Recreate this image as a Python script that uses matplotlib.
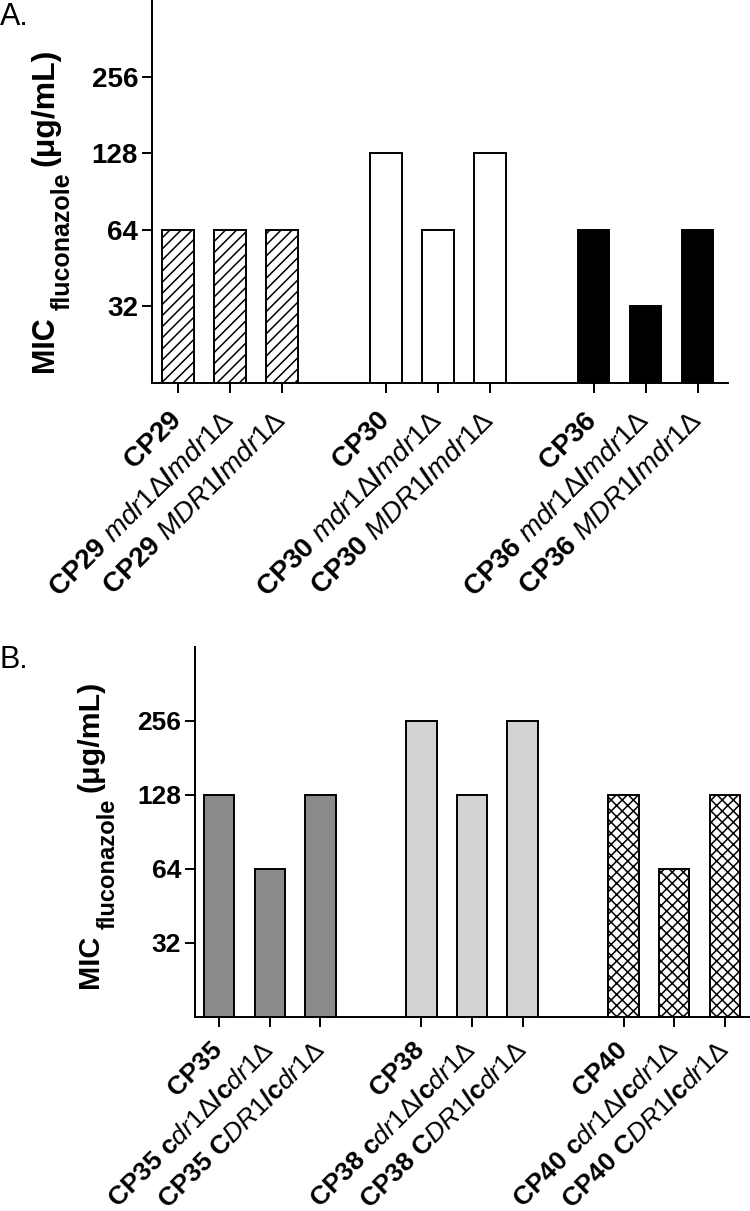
"""MIC de fluconazol (escala log2) para isolados clínicos e mutantes mdr1/cdr1."""

import numpy as np
import matplotlib
matplotlib.use("Agg")
import matplotlib.pyplot as plt

plt.rcParams["font.family"] = ["Liberation Sans", "DejaVu Sans"]
plt.rcParams["mathtext.fontset"] = "custom"
plt.rcParams["mathtext.rm"] = "Liberation Sans"
plt.rcParams["mathtext.it"] = "Liberation Sans:italic"
plt.rcParams["mathtext.bf"] = "Liberation Sans:bold"
plt.rcParams["hatch.linewidth"] = 1.1

# --- dados (painel A: mdr1) ---
A_VALUES = [64, 64, 64, 128, 64, 128, 64, 32, 64]
A_LABELS = [
    r"$\mathbf{CP29}$",
    r"$\mathbf{CP29}\ \mathit{mdr1Δ}\mathbf{/}\mathit{mdr1Δ}$",
    r"$\mathbf{CP29}\ \mathit{MDR1}\mathbf{/}\mathit{mdr1Δ}$",
    r"$\mathbf{CP30}$",
    r"$\mathbf{CP30}\ \mathit{mdr1Δ}\mathbf{/}\mathit{mdr1Δ}$",
    r"$\mathbf{CP30}\ \mathit{MDR1}\mathbf{/}\mathit{mdr1Δ}$",
    r"$\mathbf{CP36}$",
    r"$\mathbf{CP36}\ \mathit{mdr1Δ}\mathbf{/}\mathit{mdr1Δ}$",
    r"$\mathbf{CP36}\ \mathit{MDR1}\mathbf{/}\mathit{mdr1Δ}$",
]

# --- dados (painel B: cdr1) ---
B_VALUES = [128, 64, 128, 256, 128, 256, 128, 64, 128]
B_LABELS = [
    r"$\mathbf{CP35}$",
    r"$\mathbf{CP35\ c}\mathit{dr1Δ}\mathbf{/c}\mathit{dr1Δ}$",
    r"$\mathbf{CP35\ C}\mathit{DR1}\mathbf{/c}\mathit{dr1Δ}$",
    r"$\mathbf{CP38}$",
    r"$\mathbf{CP38\ c}\mathit{dr1Δ}\mathbf{/c}\mathit{dr1Δ}$",
    r"$\mathbf{CP38\ C}\mathit{DR1}\mathbf{/c}\mathit{dr1Δ}$",
    r"$\mathbf{CP40}$",
    r"$\mathbf{CP40\ c}\mathit{dr1Δ}\mathbf{/c}\mathit{dr1Δ}$",
    r"$\mathbf{CP40\ C}\mathit{DR1}\mathbf{/c}\mathit{dr1Δ}$",
]

Y_TICKS = [32, 64, 128, 256]
Y_MIN, Y_MAX = 16, 512
POS = [0, 1, 2, 4, 5, 6, 8, 9, 10]   # três grupos de três barras

# estilo de cada grupo: (cor, hachura)
A_STYLES = [("white", "///"), ("white", None), ("black", None)]
B_STYLES = [("#8a8a8a", None), ("#d2d2d2", None), ("white", "xxx")]

W, H = 750, 1211


def draw_panel(ax, values, labels, styles, xlim, fs=20, xpad=17):
    vals = np.array(values, dtype=float)
    for g, (color, hatch) in enumerate(styles):
        idx = slice(3 * g, 3 * g + 3)
        ax.bar(np.array(POS)[idx], vals[idx] - Y_MIN, bottom=Y_MIN, width=0.6,
               color=color, hatch=hatch, edgecolor="black", linewidth=1.4)
    ax.set_yscale("log", base=2)
    ax.set_ylim(Y_MIN, Y_MAX)
    ax.set_xlim(*xlim)
    ax.set_yticks(Y_TICKS)
    ax.set_yticklabels([str(t) for t in Y_TICKS], fontsize=fs, fontweight="bold")
    ax.yaxis.set_minor_locator(matplotlib.ticker.NullLocator())
    ax.set_xticks(POS)
    ax.set_xticklabels(labels, rotation=45, ha="right", va="center",
                       rotation_mode="anchor", fontsize=fs)
    for s in ("top", "right"):
        ax.spines[s].set_visible(False)
    for s in ("left", "bottom"):
        ax.spines[s].set_linewidth(1.4)
    ax.tick_params(axis="both", length=7, width=1.4, direction="out")
    ax.tick_params(axis="y", pad=3)
    ax.tick_params(axis="x", pad=xpad)


def draw_ylabel(fig, x_base, y_bottom, k=1.0):
    """Rótulo 'MIC fluconazole (µg/mL)' montado em três pedaços verticais."""
    renderer = fig.canvas.get_renderer()
    kw = dict(rotation=90, rotation_mode="anchor", ha="left", va="baseline",
              transform=None)
    t1 = fig.text(x_base, H - y_bottom, "MIC", fontsize=22 * k,
                  fontweight="bold", **kw)
    y = H - y_bottom + t1.get_window_extent(renderer).height + 6 * k
    t2 = fig.text(x_base + 17 * k, y, "fluconazole", fontsize=18 * k,
                  fontweight="bold", **kw)
    y += t2.get_window_extent(renderer).height + 7 * k
    fig.text(x_base, y, "(μg/mL)", fontsize=23 * k, fontweight="bold", **kw)


fig = plt.figure(figsize=(7.5, 12.11), dpi=100)

# painel A
axA = fig.add_axes([152 / W, 1 - 383 / H, 576 / W, 383 / H])
draw_panel(axA, A_VALUES, A_LABELS, A_STYLES, (-0.5, 10.58))
# painel B
axB = fig.add_axes([195 / W, 1 - 1017 / H, 555 / W, 370 / H])
draw_panel(axB, B_VALUES, B_LABELS, B_STYLES, (-0.48, 10.5), fs=19, xpad=14)

draw_ylabel(fig, 53, 372)
draw_ylabel(fig, 98, 988, k=0.95)

fig.text(0, 1 - 2 / H, "A.", ha="left", va="top", fontsize=22)
fig.text(0, 1 - 645 / H, "B.", ha="left", va="top", fontsize=22)

fig.savefig("out.png", dpi=100)
